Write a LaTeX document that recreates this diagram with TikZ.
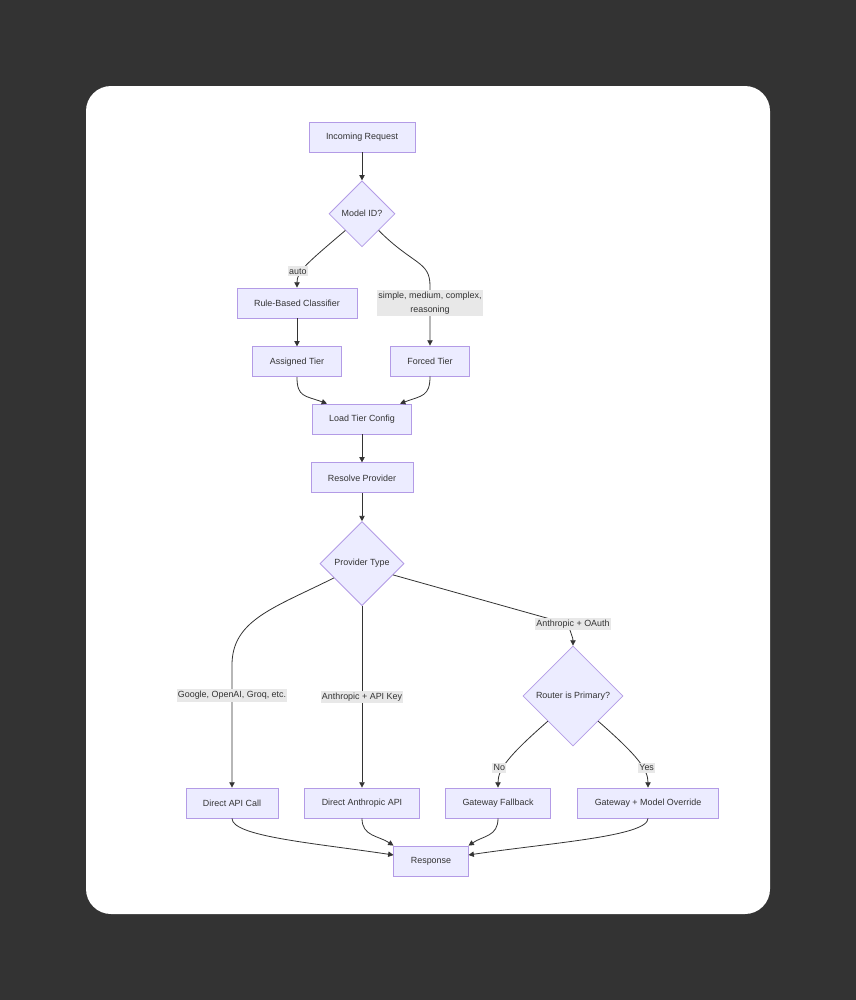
\documentclass[tikz,border=0pt]{standalone}
\usepackage{fontspec}
\setmainfont{Liberation Sans}
\usepackage{tikz}
\usetikzlibrary{shapes.geometric, arrows.meta, positioning}
\definecolor{pagebg}{HTML}{333333}
\definecolor{nodefill}{HTML}{ECECFF}
\definecolor{nodeline}{HTML}{9370DB}
\definecolor{edgeline}{HTML}{333333}
\definecolor{lblfill}{HTML}{E8E8E8}
\definecolor{textdark}{HTML}{333333}
\newcommand{\mmfont}{\fontsize{6.7}{10.5}\selectfont}
\tikzset{
  % Process boxes
  procbox/.style={
    rectangle, draw=nodeline!70, fill=nodefill, line width=0.6pt,
    minimum height=22.5pt, inner xsep=12.75pt, inner ysep=0pt,
    text=textdark, font=\mmfont,
  },
  % Decisions
  decision/.style={
    diamond, aspect=1, draw=nodeline!70, fill=nodefill, line width=0.6pt,
    inner sep=0pt, minimum size=#1, text=textdark, font=\mmfont,
  },
  decision/.default={50pt},
  % Arrows
  flow/.style={-{Triangle[length=4pt,width=4pt]}, draw=edgeline, line width=0.6pt},
  % Labels on arrows
  edgelbl/.style={fill=lblfill, text=textdark, font=\mmfont,
    inner xsep=1pt, inner ysep=1.5pt, align=center},
}

\begin{document}
\begin{tikzpicture}[x=0.75pt, y=-0.75pt, node distance=21pt]

  % Page and card
  \useasboundingbox (0,0) rectangle (856,1000);
  \fill[pagebg] (0,0) rectangle (856,1000);
  \fill[white, rounded corners=18.75pt] (86,86) rectangle (770,914);

  % Routing of the model
  \node[procbox] (request) at (362,137) {Incoming Request};
  \node[decision=49.5pt, below=of request] (modelid) {Model ID?};
  \node[procbox] (rule) at (297,303) {Rule-Based Classifier};
  \node[procbox, below=of rule] (assigned) {Assigned Tier};
  \node[procbox] (forced) at (430,361) {Forced Tier};

  % Tier and provider
  \node[procbox] (load) at (362,419) {Load Tier Config};
  \node[procbox, below=of load] (resolve) {Resolve Provider};
  \node[decision=63pt, below=of resolve] (provider) {Provider Type};
  \node[decision=75pt] (router) at (573,696) {Router is Primary?};

  % Calls
  \node[procbox] (call) at (232,803) {Direct API Call};
  \node[procbox] (anthro) at (362,803) {Direct Anthropic API};
  \node[procbox] (fallback) at (498,803) {Gateway Fallback};
  \node[procbox] (override) at (648,803) {Gateway + Model Override};
  \node[procbox] (response) at (431,861) {Response};

  \coordinate (fbend) at (430,286);
  \coordinate (gbend) at (232,665);
  \coordinate (obend) at (568,624);

  % Arrows
  \draw[flow] (request) -- (modelid);
  \draw[flow] (modelid.south west) .. controls +(-40,34) and +(0,-16) ..
    node[edgelbl, pos=0.62, xshift=-3pt] {auto} (rule.north);
  \draw[flow] (modelid.south east) .. controls +(35,35) and +(0,-25) .. (fbend)
    -- node[edgelbl, pos=0.28] {simple, medium, complex,\\reasoning} (forced.north);
  \draw[flow] (rule) -- (assigned);
  \draw[flow] (assigned.south) .. controls +(0,20) and +(-22,-8) .. ([xshift=-26.25pt]load.north);
  \draw[flow] (forced.south) .. controls +(0,20) and +(22,-8) .. ([xshift=28.5pt]load.north);
  \draw[flow] (load) -- (resolve);
  \draw[flow] (resolve) -- (provider);

  \draw[flow] (provider.207) .. controls +(-60,30) and +(0,-45) .. (gbend)
    -- node[edgelbl, pos=0.25] {Google, OpenAI, Groq, etc.} (call.north);
  \draw[flow] (provider.south) -- node[edgelbl] {Anthropic + API Key} (anthro.north);
  \draw[flow] (provider.340) -- (obend)
    node[edgelbl, xshift=3.75pt] {Anthropic + OAuth}
    .. controls +(3,10) and +(0,-8) .. (router.north);

  \draw[flow] (router.south west) .. controls +(-40,35) and +(0,-18) ..
    node[edgelbl, pos=0.62, xshift=-3pt] {No} (fallback.north);
  \draw[flow] (router.south east) .. controls +(40,35) and +(0,-18) ..
    node[edgelbl, pos=0.62, xshift=3pt] {Yes} (override.north);

  \draw[flow] (call.south) .. controls +(0,18) and +(-80,-12) .. ([yshift=4.5pt]response.west);
  \draw[flow] (anthro.south) .. controls +(0,18) and +(-15,-10) .. (response.north west);
  \draw[flow] (fallback.south) .. controls +(0,18) and +(15,-10) .. (response.north east);
  \draw[flow] (override.south) .. controls +(0,18) and +(80,-12) .. ([yshift=4.5pt]response.east);

\end{tikzpicture}
\end{document}
